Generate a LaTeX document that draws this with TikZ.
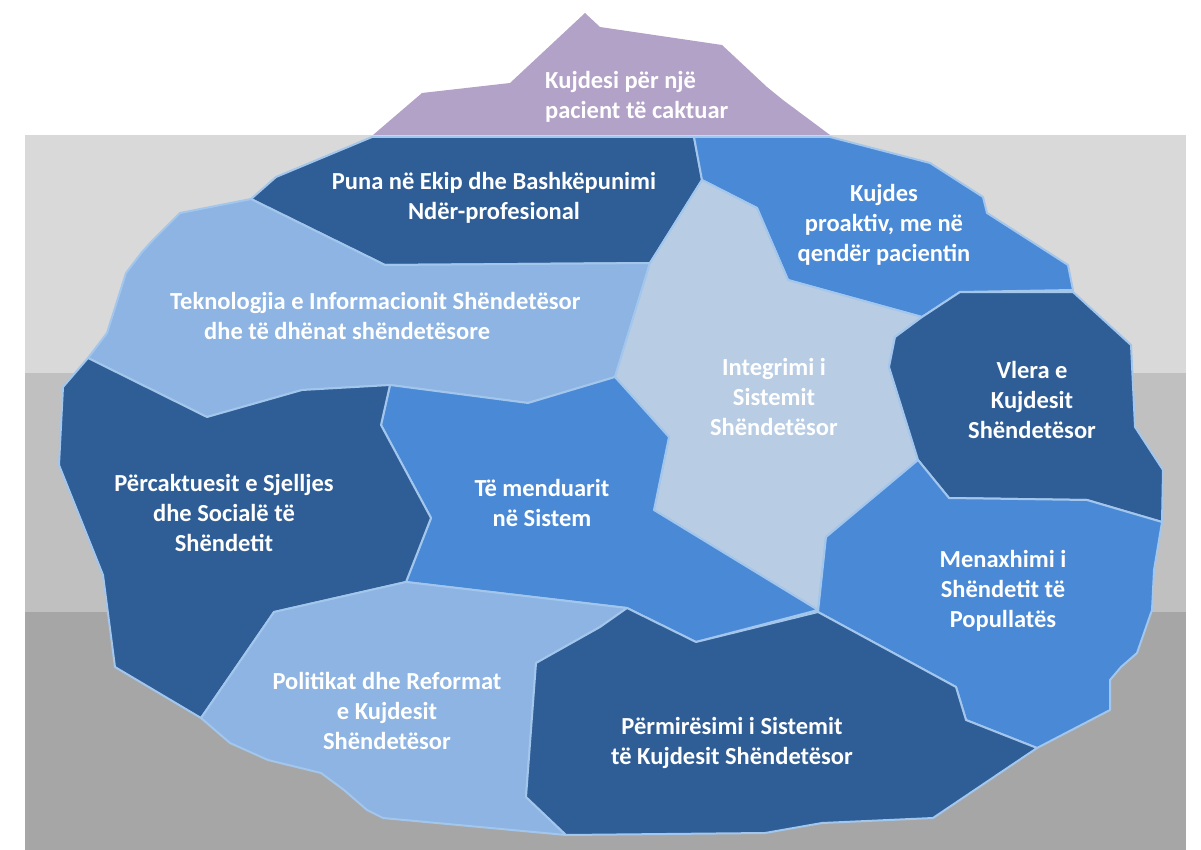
\documentclass[tikz,border=0pt]{standalone}
\usepackage{fontspec}
\setmainfont{Carlito}

\definecolor{tipviolet}{HTML}{B3A2C7}
\definecolor{deepblue}{HTML}{2F5D96}
\definecolor{midblue}{HTML}{4A89D6}
\definecolor{softblue}{HTML}{8DB4E3}
\definecolor{paleblue}{HTML}{B8CCE4}
\definecolor{rimblue}{HTML}{A3C6EC}
\definecolor{bandtop}{HTML}{D9D9D9}
\definecolor{bandmid}{HTML}{C0C0C0}
\definecolor{bandlow}{HTML}{A6A6A6}

\begin{document}
\begin{tikzpicture}[x=1pt, y=-1pt,
    piece/.style={fill=#1, draw=rimblue, line width=2pt, line join=round},
    caption/.style={text=white, font=\fontsize{24.5}{30}\selectfont\bfseries,
                    align=center, inner sep=0pt}
]

\useasboundingbox (0,0) rectangle (1201,850);

%% Water bands
\fill[white] (0,0) rectangle (1201,850);
\fill[bandtop] (25,135) rectangle (1186,373);
\fill[bandmid] (25,373) rectangle (1186,612);
\fill[bandlow] (25,612) rectangle (1186,850);

%% Tip above the waterline
\fill[tipviolet] (373,135) -- (422,93) -- (510,83) -- (585,13) -- (600,27)
  -- (722,45) -- (767,87) -- (783,100) -- (830,135) -- cycle;

%% Pieces below the waterline
\draw[piece=deepblue] (372,137) -- (694,137) -- (702,180) -- (650,263)
  -- (385,265) -- (251,199) -- (276,177) -- cycle;
\draw[piece=midblue] (694,137) -- (830,137) -- (930,163) -- (983,197)
  -- (987,213) -- (1068,265) -- (1073,290) -- (960,292) -- (922,317)
  -- (788,280) -- (757,208) -- (702,180) -- cycle;
\draw[piece=softblue] (251,199) -- (385,265) -- (650,263) -- (615,377)
  -- (528,403) -- (390,385) -- (302,390) -- (207,417) -- (88,358)
  -- (107,333) -- (126,273) -- (142,252) -- (153,240) -- (180,213) -- cycle;
\draw[piece=paleblue] (702,180) -- (757,208) -- (788,280) -- (922,317)
  -- (895,337) -- (889,367) -- (918,460) -- (826,537) -- (818,610)
  -- (654,510) -- (669,437) -- (615,377) -- (650,263) -- cycle;
\draw[piece=deepblue] (960,292) -- (1073,292) -- (1131,345) -- (1135,427)
  -- (1163,470) -- (1162,522) -- (1087,500) -- (949,498) -- (918,460)
  -- (889,367) -- (895,337) -- (922,317) -- cycle;
\draw[piece=midblue] (918,460) -- (949,498) -- (1087,500) -- (1162,522)
  -- (1154,570) -- (1152,610) -- (1137,653) -- (1121,667) -- (1110,680)
  -- (1110,710) -- (1037,748) -- (966,720) -- (956,687) -- (818,612)
  -- (826,537) -- cycle;
\draw[piece=midblue] (390,385) -- (528,403) -- (615,377) -- (669,437)
  -- (654,510) -- (818,610) -- (696,642) -- (627,608) -- (406,582)
  -- (431,518) -- (381,425) -- cycle;
\draw[piece=deepblue] (88,358) -- (207,417) -- (302,390) -- (390,385)
  -- (381,425) -- (431,518) -- (406,582) -- (274,612) -- (201,718)
  -- (115,667) -- (103,575) -- (59,465) -- (63,387) -- cycle;
\draw[piece=softblue] (406,582) -- (627,608) -- (600,627) -- (536,663)
  -- (526,797) -- (566,835) -- (383,818) -- (367,810) -- (344,790)
  -- (321,773) -- (268,760) -- (230,743) -- (201,718) -- (274,612) -- cycle;
\draw[piece=deepblue] (627,608) -- (696,642) -- (818,612) -- (956,687)
  -- (966,720) -- (1037,748) -- (933,818) -- (822,823) -- (765,833)
  -- (566,835) -- (526,797) -- (536,663) -- (600,627) -- cycle;

%% Labels
\node[caption, align=left, anchor=west] (tiplbl) at (545,97)
  {Kujdesi për një\\pacient të caktuar};
\node[caption] (team) at (494,198) {Puna në Ekip dhe Bashkëpunimi\\Ndër-profesional};
\node[caption] (proactive) at (884,225) {Kujdes\\proaktiv, me në\\qendër pacientin};
\node[caption, align=left, anchor=west] (infotech) at (170,316)
  {Teknologjia e Informacionit Shëndetësor\\\hspace*{34pt}dhe të dhënat shëndetësore};
\node[caption] (integration) at (774,397) {Integrimi i\\Sistemit\\Shëndetësor};
\node[caption] (value) at (1032,400) {Vlera e\\Kujdesit\\Shëndetësor};
\node[caption] (determinants) at (224,513) {Përcaktuesit e Sjelljes\\dhe Socialë të\\Shëndetit};
\node[caption] (systems) at (542,503) {Të menduarit\\në Sistem};
\node[caption] (population) at (1003,591) {Menaxhimi i\\Shëndetit të\\Popullatës};
\node[caption] (policy) at (387,711) {Politikat dhe Reformat\\e Kujdesit\\Shëndetësor};
\node[caption] (improve) at (732,743) {Përmirësimi i Sistemit\\të Kujdesit Shëndetësor};

\end{tikzpicture}
\end{document}
